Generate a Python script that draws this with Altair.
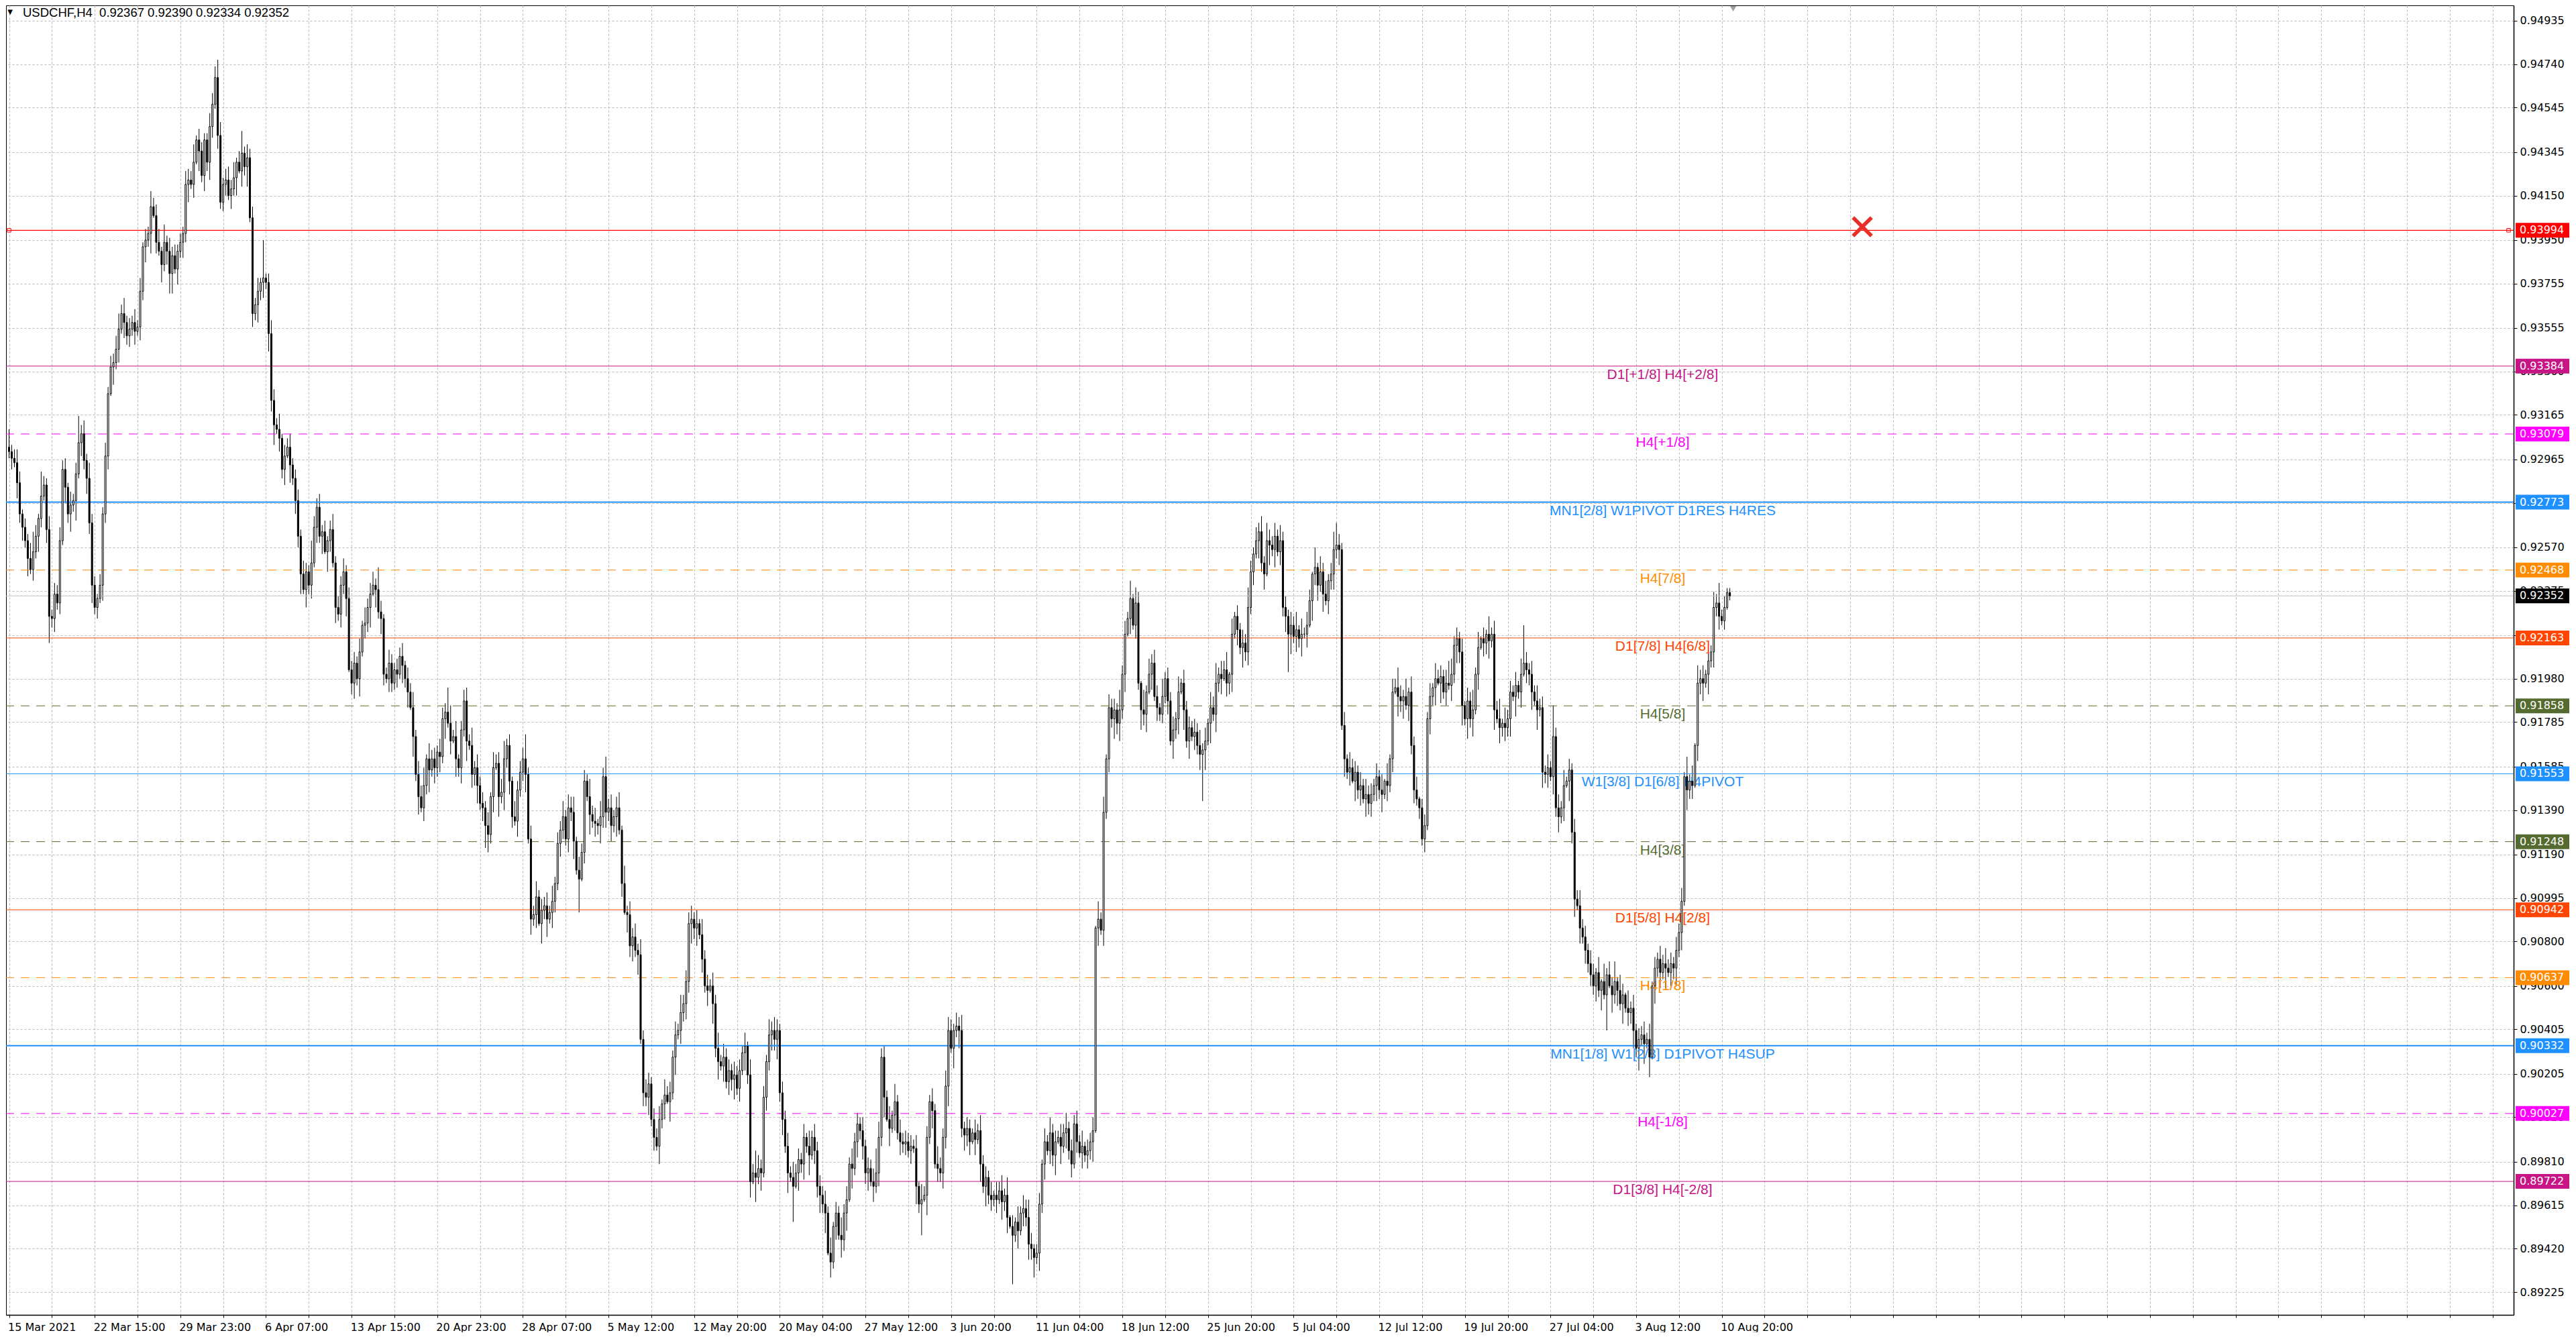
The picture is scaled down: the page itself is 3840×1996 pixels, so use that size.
import json
import altair as alt
import pandas as pd

# ---------------- data ----------------
BASE = 0.89  # price = BASE + pips / 10000
FIRST_OPEN_PIPS = 402

# H4 closes, pips above 0.89000 (16 bars per row)
close_pips = [
    400, 397, 395, 386, 372, 366, 360, 352, 347, 355, 362, 370, 380, 385, 365, 326,
    325, 336, 332, 360, 392, 384, 372, 376, 378, 390, 404, 408, 396, 388, 368, 340,
    330, 334, 340, 372, 398, 426, 438, 440, 446, 455, 462, 458, 452, 455, 458, 454,
    456, 472, 492, 495, 498, 510, 506, 494, 490, 484, 494, 490, 480, 488, 482, 490,
    494, 498, 520, 522, 520, 530, 540, 535, 524, 540, 530, 546, 556, 568, 542, 512,
    520, 522, 515, 518, 523, 530, 526, 534, 528, 532, 505, 462, 466, 472, 476, 478,
    476, 453, 423, 412, 410, 406, 392, 398, 402, 394, 388, 378, 362, 345, 338, 346,
    340, 350, 366, 375, 362, 364, 355, 360, 365, 350, 330, 327, 340, 346, 334, 302,
    296, 305, 298, 310, 322, 323, 330, 336, 340, 338, 328, 325, 300, 298, 305, 296,
    302, 300, 308, 304, 298, 292, 285, 272, 255, 245, 240, 250, 262, 257, 262, 258,
    265, 263, 280, 283, 278, 270, 272, 262, 258, 275, 288, 270, 268, 255, 258, 250,
    242, 240, 232, 228, 245, 258, 260, 245, 247, 262, 268, 252, 236, 234, 248, 256,
    262, 255, 226, 190, 192, 200, 188, 194, 196, 190, 193, 198, 206, 224, 230, 236,
    226, 240, 238, 225, 212, 208, 220, 252, 245, 237, 234, 233, 232, 236, 254, 238,
    240, 232, 236, 240, 230, 206, 193, 192, 178, 182, 176, 174, 136, 112, 110, 116,
    100, 92, 88, 100, 107, 111, 108, 112, 128, 138, 140, 148, 152, 162, 188, 190,
    186, 188, 183, 172, 160, 158, 160, 152, 132, 126, 124, 128, 117, 122, 118, 120,
    114, 122, 130, 133, 120, 72, 76, 74, 78, 76, 110, 126, 138, 140, 136, 140,
    112, 100, 88, 76, 74, 70, 76, 82, 80, 92, 88, 84, 92, 86, 70, 66,
    62, 58, 40, 36, 52, 58, 48, 46, 58, 64, 80, 78, 90, 98, 95, 88,
    76, 78, 72, 70, 76, 92, 128, 110, 100, 96, 102, 108, 94, 90, 89, 90,
    86, 88, 87, 70, 62, 64, 66, 92, 108, 104, 80, 78, 76, 92, 115, 140,
    132, 140, 142, 140, 96, 93, 96, 90, 94, 91, 95, 80, 70, 74, 66, 64,
    66, 64, 68, 63, 66, 56, 52, 48, 54, 50, 58, 60, 56, 44, 42, 38,
    40, 62, 80, 90, 86, 94, 84, 90, 92, 88, 94, 96, 86, 80, 98, 90,
    85, 88, 84, 86, 90, 95, 186, 190, 185, 238, 262, 285, 280, 284, 278, 284,
    300, 318, 325, 334, 322, 332, 296, 284, 282, 292, 300, 305, 290, 285, 282, 290,
    298, 288, 270, 275, 280, 292, 296, 284, 270, 276, 272, 274, 268, 264, 266, 270,
    278, 285, 282, 296, 300, 298, 302, 296, 300, 318, 326, 320, 312, 314, 310, 330,
    346, 354, 360, 364, 350, 345, 360, 358, 356, 362, 355, 360, 330, 326, 318, 322,
    317, 320, 316, 318, 318, 322, 333, 345, 348, 340, 346, 336, 333, 342, 345, 356,
    358, 356, 277, 262, 256, 258, 252, 256, 248, 250, 244, 246, 242, 246, 250, 254,
    248, 246, 252, 250, 262, 292, 294, 290, 288, 290, 286, 292, 268, 248, 244, 240,
    226, 232, 280, 290, 294, 298, 296, 299, 292, 296, 295, 300, 313, 316, 310, 286,
    280, 288, 280, 284, 300, 312, 316, 314, 318, 315, 318, 284, 280, 276, 278, 276,
    280, 292, 290, 295, 292, 300, 305, 302, 300, 292, 288, 284, 285, 256, 255, 258,
    254, 272, 240, 236, 240, 250, 252, 257, 229, 199, 196, 186, 182, 176, 170, 165,
    160, 166, 158, 162, 156, 165, 160, 156, 162, 158, 152, 156, 150, 148, 150, 140,
    132, 136, 138, 134, 136, 128, 160, 168, 172, 166, 170, 168, 166, 170, 168, 176,
    184, 198, 254, 248, 252, 250, 268, 296, 298, 296, 300, 306, 310, 330, 332, 326,
    324, 330, 336.7, 335.2,
]

# upper / lower wick lengths in pips (base-36 digits, one per bar)
upper_wick = [
    "834652437952b436", "3546452635c46374", "4253635467473536", "3625374562836453",
    "4365482543365586", "3564725a3645362h", "2465372546345364", "3a54635247354635",
    "4536274563a52364", "3546254736582745", "3654b83724563836", "4536274568352745",
    "5b36473546373547", "3657264538462749", "4635728364637465", "3546274536384556",
    "3627453647364536", "4536274a64537465", "3546374536273645", "4637253846374536",
    "3546b74536283645", "4536274536385476", "5364735426374536", "2647381527364852",
    "4526374536473546", "3725461837264539", "4638275193746528", "3546372645364736",
    "2759364817253649", "5364738546374536", "4827365192746358", "a536274536374536",
    "3718264953827461", "4536274536a74536", "2649371528364927", "453627h536374536",
    "3e46372536474536", "5271836492751836", "3546372536474536", "4629371846253749",
    "3522",
]
lower_wick = [
    "352746382537426c", "4635274839264758", "3527461836274536", "2647391528369927",
    "3748261937485263", "4526381749263847", "3859264718365928", "4627381952736481",
    "5738264918375264", "3628471938264a37", "4739261847392658", "36a8471938465273",
    "4827361948275364", "36482f1529364857", "4739261857392648", "3628471938264759",
    "5826371948273659", "3628471b38264759", "47392g1847392658", "4917362858193746",
    "5827364918273645", "36284e1938264759", "2938475617283945", "3628471m38264759",
    "3847265918374625", "2736491827364958", "4817263958172634", "36284719382647l9",
    "2938471658273946", "36284719382647h9", "3748261957382647", "4728361947285637",
    "4827361958274635", "3627481936274859", "3948271658392746", "4829371658293746",
    "2847361958273645", "47392g1847392658", "4a39291847392658", "3829461758293746",
    "2412",
]

time_labels = [
    "15 Mar 2021", "22 Mar 15:00", "29 Mar 23:00", "6 Apr 07:00", "13 Apr 15:00",
    "20 Apr 23:00", "28 Apr 07:00", "5 May 12:00", "12 May 20:00", "20 May 04:00",
    "27 May 12:00", "3 Jun 20:00", "11 Jun 04:00", "18 Jun 12:00", "25 Jun 20:00",
    "5 Jul 04:00", "12 Jul 12:00", "19 Jul 20:00", "27 Jul 04:00", "3 Aug 12:00",
    "10 Aug 20:00",
]
y_ticks = [
    0.94935, 0.94740, 0.94545, 0.94345, 0.94150, 0.93950, 0.93755, 0.93555, 0.93360,
    0.93165, 0.92965, 0.92770, 0.92570, 0.92375, 0.92175, 0.91980, 0.91785, 0.91585,
    0.91390, 0.91190, 0.90995, 0.90800, 0.90600, 0.90405, 0.90205, 0.90010, 0.89810,
    0.89615, 0.89420, 0.89225,
]

level_prices = [0.93994, 0.93384, 0.93079, 0.92773, 0.92468, 0.92163, 0.91858,
                0.91553, 0.91248, 0.90942, 0.90637, 0.90332, 0.90027, 0.89722]
level_labels = ["", "D1[+1/8] H4[+2/8]", "H4[+1/8]", "MN1[2/8] W1PIVOT D1RES H4RES",
                "H4[7/8]", "D1[7/8] H4[6/8]", "H4[5/8]", "W1[3/8] D1[6/8] H4PIVOT",
                "H4[3/8]", "D1[5/8] H4[2/8]", "H4[1/8]", "MN1[1/8] W1[2/8] D1PIVOT H4SUP",
                "H4[-1/8]", "D1[3/8] H4[-2/8]"]
current_price = 0.92352
header_symbol = "USDCHF,H4"
header_ohlc = [0.92367, 0.92390, 0.92334, 0.92352]
marker_bar = [692.5]
marker_price = [0.94010]
end_marker_bars = [0, 934]
shift_marker_bar = [644.25]

# ---------------- styles ----------------
LEVEL_COLORS = ["#FF0000", "#C71585", "#FF00FF", "#1E90FF", "#FF8C00", "#FF4500", "#556B2F",
                "#1E90FF", "#556B2F", "#FF4500", "#FF8C00", "#1E90FF", "#FF00FF", "#C71585"]
LEVEL_DASHED = [False, False, True, False, True, False, True,
                False, True, False, True, False, True, False]
LEVEL_WIDTH = [1.2, 1, 1, 2, 1, 1, 1, 1, 1, 1, 1, 2, 1, 1]
W, H = 3738, 1952
X_DOMAIN = [0.125, 934.625]
Y_DOMAIN = [0.891226, 0.950043]
LABEL_BAR = 617.9
GRID = "#B8B8B8"
BOX_PATH = "M-1,-0.275L1,-0.275L1,0.275L-1,0.275Z"
X_PATH = ("M-1,-0.75L-0.75,-1L0,-0.25L0.75,-1L1,-0.75L0.25,0L1,0.75L0.75,1"
          "L0,0.25L-0.75,1L-1,0.75L-0.25,0Z")

# ---------------- tables ----------------
up = [int(ch, 36) for ch in "".join(upper_wick)]
dn = [int(ch, 36) for ch in "".join(lower_wick)]
n = len(close_pips)
assert len(up) == n and len(dn) == n, (n, len(up), len(dn))
opens = [FIRST_OPEN_PIPS] + close_pips[:-1]
candles = pd.DataFrame({
    "i": list(range(n)),
    "o": [BASE + v / 1e4 for v in opens],
    "c": [BASE + v / 1e4 for v in close_pips],
    "h": [BASE + (max(o, c) + u) / 1e4 for o, c, u in zip(opens, close_pips, up)],
    "l": [BASE + (min(o, c) - d) / 1e4 for o, c, d in zip(opens, close_pips, dn)],
})

levels = pd.DataFrame({"p": level_prices, "label": level_labels, "col": LEVEL_COLORS,
                       "w": LEVEL_WIDTH, "dashed": LEVEL_DASHED})
boxes = pd.DataFrame({"p": level_prices + [current_price],
                      "col": LEVEL_COLORS + ["#000000"]})
boxes["txt"] = [f"{p:.5f}" for p in boxes["p"]]

xs = alt.Scale(domain=X_DOMAIN, nice=False, zero=False)
ys = alt.Scale(domain=Y_DOMAIN, nice=False, zero=False)

lab_js = json.dumps(time_labels)
x_axis = alt.Axis(
    values=list(range(0, 929, 16)),
    labelExpr=f"(datum.value % 32 == 0 && datum.value / 32 < {len(time_labels)}) ? {lab_js}[datum.value / 32] : ''",
    grid=True, gridColor=GRID, gridDash=[3, 3], gridWidth=1,
    domainColor="black", domainWidth=1.5, tickColor="black", tickSize=4,
    labelFont="DejaVu Sans", labelFontSize=16, labelColor="black",
    labelAlign="left", labelOffset=-2, labelPadding=6,
    labelOverlap=False, labelFlush=False, labelBound=False, title=None)
y_axis = alt.Axis(
    orient="right", values=y_ticks, format=".5f",
    grid=True, gridColor=GRID, gridDash=[3, 3], gridWidth=1,
    domainColor="black", domainWidth=1.5, tickColor="black", tickSize=5,
    labelFont="DejaVu Sans", labelFontSize=16, labelColor="black", labelPadding=4,
    labelOverlap=False, labelFlush=False, labelBound=False, title=None)


def X(field="i:Q"):
    return alt.X(field, scale=xs, axis=x_axis)


def Y(field="p:Q"):
    return alt.Y(field, scale=ys, axis=y_axis)


solid = alt.Chart(levels[~levels["dashed"]]).mark_rule().encode(
    y=Y(), color=alt.Color("col:N", scale=None),
    strokeWidth=alt.StrokeWidth("w:Q", scale=None))
dashed = alt.Chart(levels[levels["dashed"]]).mark_rule(strokeDash=[13, 10]).encode(
    y=Y(), color=alt.Color("col:N", scale=None),
    strokeWidth=alt.StrokeWidth("w:Q", scale=None))
level_text = alt.Chart(levels[levels["label"] != ""]).mark_text(
    font="Liberation Sans", fontSize=21, align="center", baseline="top", dy=2).encode(
    x=alt.datum(LABEL_BAR), y=Y(), text="label:N", color=alt.Color("col:N", scale=None))
cur_line = alt.Chart(pd.DataFrame({"p": [current_price]})).mark_rule(
    color="#C0C0C0", strokeWidth=1).encode(y=Y())

wicks = alt.Chart(candles).mark_rule(color="black", strokeWidth=1, clip=True).encode(
    x=X(), y=Y("l:Q"), y2="h:Q")
bodies = alt.Chart(candles).mark_bar(size=2, stroke="black", strokeWidth=1, clip=True).encode(
    x=X(), y=Y("o:Q"), y2="c:Q",
    fill=alt.condition("datum.c >= datum.o", alt.value("white"), alt.value("black")))

end_sq = alt.Chart(pd.DataFrame({"i": end_marker_bars, "p": [level_prices[0]] * 2})).mark_point(
    shape="square", size=30, filled=False, color="#FF0000", strokeWidth=1, opacity=1).encode(
    x=X(), y=Y())
xmark = alt.Chart(pd.DataFrame({"i": marker_bar, "p": marker_price})).mark_point(
    shape=X_PATH, size=1000, filled=True, color="#E8302A", opacity=1, strokeWidth=0).encode(
    x=X(), y=Y())
shift = alt.Chart(pd.DataFrame({"i": shift_marker_bar})).mark_point(
    shape="triangle-down", size=90, filled=True, color="#A0A0A0", opacity=1).encode(
    x=X(), y=alt.value(5))

box = alt.Chart(boxes).mark_point(shape=BOX_PATH, size=6400, filled=True, opacity=1,
                                  strokeWidth=0).encode(
    x=alt.value(W + 43), y=Y(), color=alt.Color("col:N", scale=None))
box_text = alt.Chart(boxes).mark_text(font="DejaVu Sans", fontSize=16, align="left",
                                      baseline="middle", color="white").encode(
    x=alt.value(W + 9), y=Y(), text="txt:N")

header_txt = header_symbol + "\u00a0\u00a0" + " ".join(f"{v:.5f}" for v in header_ohlc)
title = alt.Chart(pd.DataFrame({"t": [header_txt]})).mark_text(
    font="Liberation Sans", fontSize=18.5, align="left", baseline="middle", color="black").encode(
    x=alt.value(25), y=alt.value(11), text="t:N")
tri = alt.Chart(pd.DataFrame({"t": ["▼"]})).mark_text(
    font="DejaVu Sans", fontSize=10, align="center", baseline="middle", color="black").encode(
    x=alt.value(6), y=alt.value(10), text="t:N")

chart = alt.layer(
    wicks, solid, dashed, level_text, cur_line, bodies, end_sq, xmark, shift,
    box, box_text, title, tri
).properties(
    width=W, height=H, padding=0, background="white"
).configure_view(stroke="black", strokeWidth=1)

chart.save("out.html", embed_options={"renderer": "svg", "actions": False})
